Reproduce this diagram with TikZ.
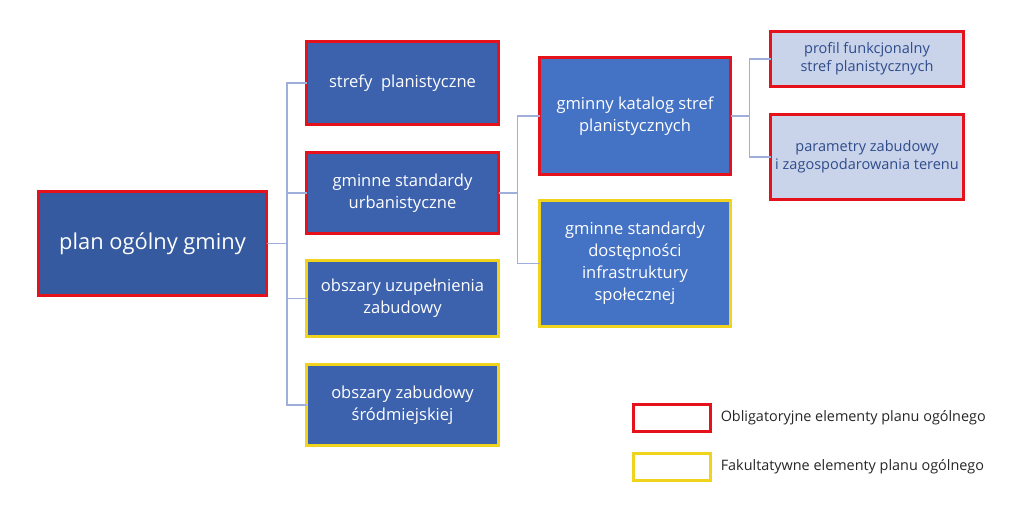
\documentclass[tikz,border=0pt]{standalone}
\usepackage{fontspec}
\setmainfont{Open Sans}
\usepackage{xcolor}
\usepackage{tikz}
\usetikzlibrary{positioning}

\definecolor{rootblue}{HTML}{355A9F}
\definecolor{midblue}{HTML}{3D62AD}
\definecolor{officeblue}{HTML}{4472C4}
\definecolor{paleblue}{HTML}{C9D3E9}
\definecolor{inkblue}{HTML}{2F4C8C}
\definecolor{oblred}{HTML}{E5111B}
\definecolor{fakyellow}{HTML}{F0D31C}
\definecolor{linkblue}{HTML}{9FAEDA}
\newcommand{\px}{0.75pt}

\begin{document}
\begin{tikzpicture}[x=0.75pt,y=-0.75pt,
  box/.style={line width=3*\px, inner sep=2pt, outer sep=0pt, align=center, text=white, font=\fontsize{12.4}{16.5}\selectfont},
  obl/.style={draw=oblred},
  fak/.style={draw=fakyellow},
  link/.style={draw=linkblue, line width=1.2*\px}]
\useasboundingbox (0,0) rectangle (1029,515);

% main tree
\node[box, obl, fill=rootblue, minimum width=228*\px, minimum height=104*\px, font=\fontsize{16.4}{20}\selectfont] (root) at (152.5,243.5) {plan ogólny gminy};
\node[box, obl, fill=midblue, minimum width=192*\px, minimum height=83*\px] (s1) at (402.5,83) {strefy~ planistyczne};
\node[box, obl, fill=midblue, minimum width=192*\px, minimum height=81*\px] (s2) at (402.5,193) {gminne standardy\\urbanistyczne};
\node[box, fak, fill=midblue, minimum width=192*\px, minimum height=76*\px] (s3) at (402.5,298.5) {obszary uzupełnienia\\zabudowy};
\node[box, fak, fill=midblue, minimum width=192*\px, minimum height=81*\px] (s4) at (402.5,405) {obszary zabudowy\\śródmiejskiej};

% second level
\node[box, obl, fill=officeblue, minimum width=191*\px, minimum height=117*\px] (k1) at (635,116) {gminny katalog stref\\planistycznych};
\node[box, fak, fill=officeblue, minimum width=191*\px, minimum height=126*\px] (k2) at (635,263.5) {gminne standardy\\dostępności\\infrastruktury\\społecznej};

% third level
\node[box, obl, fill=paleblue, text=inkblue, minimum width=193*\px, minimum height=55*\px, font=\fontsize{10.9}{13.5}\selectfont] (p1) at (867,59) {profil funkcjonalny\\stref planistycznych};
\node[box, obl, fill=paleblue, text=inkblue, minimum width=193*\px, minimum height=85*\px, font=\fontsize{10.9}{13.5}\selectfont] (p2) at (867,157) {parametry zabudowy\\i zagospodarowania terenu};

% connectors
\foreach \c in {s1,s2,s3,s4}
  \draw[link] (root.east) -- ++(20.5,0) |- (\c.west);
\foreach \c in {k1,k2}
  \draw[link] (s2.east) -- ++(19,0) |- (\c.west);
\foreach \c in {p1,p2}
  \draw[link] (k1.east) -- ++(19,0) |- (\c.west);

% legend
\node[box, obl, minimum width=77*\px, minimum height=27*\px] (legO) at (672,418) {};
\node[box, fak, minimum width=77*\px, minimum height=27*\px] (legF) at (672,467) {};
\node[right=10*\px of legO, inner sep=0pt, text=black!85, font=\fontsize{10.8}{12}\selectfont] (txtO) {Obligatoryjne elementy planu ogólnego};
\node[right=10*\px of legF, inner sep=0pt, text=black!85, font=\fontsize{10.8}{12}\selectfont] (txtF) {Fakultatywne elementy planu ogólnego};
\end{tikzpicture}
\end{document}
